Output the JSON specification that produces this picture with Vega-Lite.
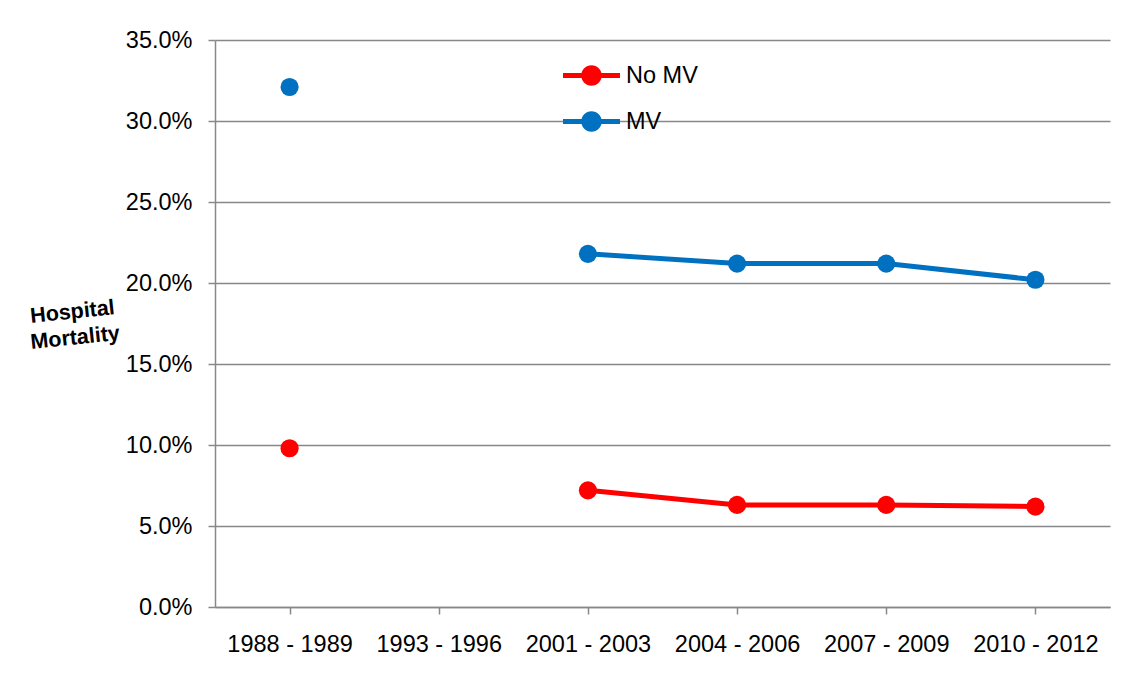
{
  "$schema": "https://vega.github.io/schema/vega-lite/v6.json",
  "autosize": {"type": "none"},
  "padding": {"left": 215, "top": 40, "right": 25, "bottom": 79},
  "width": 895,
  "height": 567,
  "background": "white",
  "config": {
    "view": {"stroke": null},
    "font": "Liberation Sans",
    "axis": {
      "labelFont": "Liberation Sans",
      "labelFontSize": 23.5,
      "labelColor": "#000000",
      "domainColor": "#888888",
      "domainWidth": 1.5,
      "tickColor": "#888888",
      "tickWidth": 1.5,
      "tickSize": 7,
      "gridColor": "#888888",
      "gridWidth": 1.3
    }
  },
  "data": {
    "values": [
      {"period": "1988 - 1989", "series": "No MV", "value": 0.098},
      {"period": "1993 - 1996", "series": "No MV", "value": null},
      {"period": "2001 - 2003", "series": "No MV", "value": 0.072},
      {"period": "2004 - 2006", "series": "No MV", "value": 0.063},
      {"period": "2007 - 2009", "series": "No MV", "value": 0.063},
      {"period": "2010 - 2012", "series": "No MV", "value": 0.062},
      {"period": "1988 - 1989", "series": "MV", "value": 0.321},
      {"period": "1993 - 1996", "series": "MV", "value": null},
      {"period": "2001 - 2003", "series": "MV", "value": 0.218},
      {"period": "2004 - 2006", "series": "MV", "value": 0.212},
      {"period": "2007 - 2009", "series": "MV", "value": 0.212},
      {"period": "2010 - 2012", "series": "MV", "value": 0.202}
    ]
  },
  "encoding": {
    "x": {
      "field": "period",
      "type": "ordinal",
      "scale": {
        "type": "point",
        "padding": 0.5,
        "domain": ["1988 - 1989", "1993 - 1996", "2001 - 2003", "2004 - 2006", "2007 - 2009", "2010 - 2012"]
      },
      "axis": {
        "title": null,
        "labelAngle": 0,
        "labelPadding": 18,
        "grid": false
      }
    },
    "y": {
      "field": "value",
      "type": "quantitative",
      "scale": {"domain": [0, 0.35], "nice": false, "zero": true},
      "axis": {
        "format": ".1%",
        "values": [0, 0.05, 0.1, 0.15, 0.2, 0.25, 0.3, 0.35],
        "labelPadding": 16,
        "grid": true,
        "title": ["Hospital", "Mortality"],
        "titleFont": "Liberation Sans",
        "titleFontWeight": "bold",
        "titleFontSize": 21.5,
        "titleColor": "#000000",
        "titleAngle": -6,
        "titleAlign": "center",
        "titleBaseline": "middle",
        "titleLineHeight": 26,
        "titleX": -143,
        "titleY": 272
      }
    },
    "color": {
      "field": "series",
      "type": "nominal",
      "scale": {"domain": ["No MV", "MV"], "range": ["#FF0000", "#0070C0"]},
      "legend": {
        "title": null,
        "orient": "none",
        "legendX": 348,
        "legendY": 7,
        "symbolType": "M -1 -0.09 H 1 V 0.09 H -1 Z M 0.36 0 A 0.36 0.36 0 1 1 -0.36 0 A 0.36 0.36 0 1 1 0.36 0 Z",
        "symbolSize": 3249,
        "symbolStrokeWidth": 0,
        "symbolOpacity": 1,
        "labelFont": "Liberation Sans",
        "labelFontSize": 23.5,
        "labelColor": "#000000",
        "labelOffset": 6,
        "rowPadding": 6
      }
    }
  },
  "layer": [
    {
      "mark": {"type": "line", "strokeWidth": 5, "invalid": "break-paths-filter-domains"}
    },
    {
      "mark": {"type": "circle", "size": 330, "opacity": 1}
    }
  ]
}
